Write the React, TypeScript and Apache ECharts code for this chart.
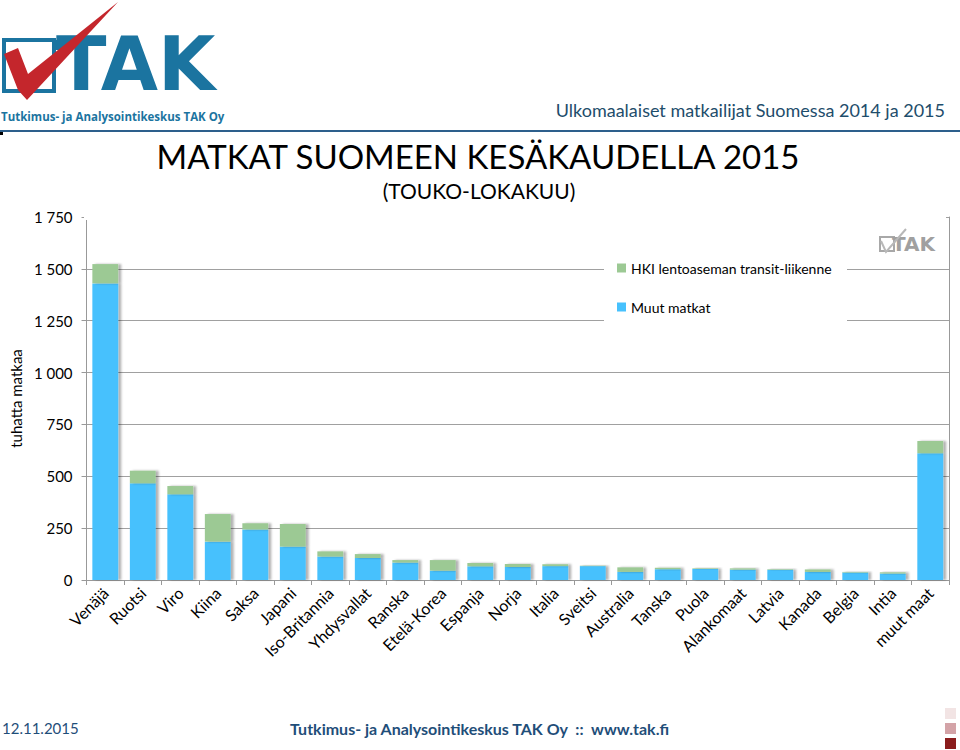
import React, { useEffect, useRef } from "react";
import * as echarts from "echarts";

const categories = ["Venäjä","Ruotsi","Viro","Kiina","Saksa","Japani","Iso-Britannia","Yhdysvallat","Ranska","Etelä-Korea","Espanja","Norja","Italia","Sveitsi","Australia","Tanska","Puola","Alankomaat","Latvia","Kanada","Belgia","Intia","muut maat"];
const muutMatkat = [1430,466,413,185,244,161,113,106,84,45,66,63,67,67,39,52,53,50,49,39,36,31,611];
const hkiTransit = [93,61,40,133,29,109,25,19,12,51,16,14,9,2,22,7,3,6,3,12,3,6,59];
const yTicks = { min: 0, max: 1750, interval: 250 };

const FONT = "Lato, 'Open Sans', sans-serif";
const BLUE = "#47c1fd";
const GREEN = "#9cc994";
const DARK = "#1f4e79";

function fmt(v: number): string {
  if (v >= 1000) {
    const t = Math.floor(v / 1000);
    const r = String(v % 1000).padStart(3, "0");
    return `${t} ${r}`;
  }
  return String(v);
}

export default function App() {
  const ref = useRef<HTMLDivElement>(null);
  useEffect(() => {
    if (!ref.current) return;
    const chart = echarts.init(ref.current, null, { renderer: "svg" });
    const shadow = { shadowColor: "rgba(0,0,0,0.3)", shadowBlur: 2, shadowOffsetX: 3, shadowOffsetY: 0 };
    chart.setOption({
      animation: false,
      backgroundColor: "#ffffff",
      textStyle: { fontFamily: FONT },
      grid: { left: 82, right: 11, top: 217, bottom: 170, containLabel: false },
      legend: {
        orient: "vertical",
        left: 612,
        top: 256,
        itemWidth: 9,
        itemHeight: 9,
        itemGap: 25,
        icon: "rect",
        data: ["HKI lentoaseman transit-liikenne", "Muut matkat"],
        textStyle: { fontFamily: FONT, fontSize: 14, color: "#000" },
        z: 10,
      },
      xAxis: {
        type: "category",
        data: categories,
        axisLine: { lineStyle: { color: "#999", width: 1 } },
        axisTick: { show: true, length: 5, lineStyle: { color: "#999" } },
        axisLabel: { rotate: 45, fontSize: 16, color: "#000", fontFamily: FONT, margin: 10, interval: 0 },
      },
      yAxis: [
        {
          type: "value",
          min: yTicks.min,
          max: yTicks.max,
          interval: yTicks.interval,
          name: "tuhatta matkaa",
          nameLocation: "middle",
          nameRotate: 90,
          nameGap: 62,
          nameTextStyle: { fontSize: 15, color: "#000", fontFamily: FONT },
          axisLine: { show: true, lineStyle: { color: "#999" } },
          axisTick: { show: true, length: 5, lineStyle: { color: "#999" } },
          axisLabel: { fontSize: 15, color: "#000", fontFamily: FONT, margin: 14, formatter: (v: number) => fmt(v) },
          splitLine: { show: true, lineStyle: { color: "#a0a0a0", width: 1 } },
        },
        {
          type: "value",
          position: "right",
          min: yTicks.min,
          max: yTicks.max,
          interval: yTicks.interval,
          axisLine: { show: true, lineStyle: { color: "#999" } },
          axisTick: { show: false },
          axisLabel: { show: false },
          splitLine: { show: false },
        },
      ],
      series: [
        {
          name: "Muut matkat",
          type: "bar",
          stack: "total",
          data: muutMatkat,
          barCategoryGap: "31%",
          itemStyle: { color: BLUE, ...shadow },
        },
        {
          name: "HKI lentoaseman transit-liikenne",
          type: "bar",
          stack: "total",
          data: hkiTransit,
          barCategoryGap: "31%",
          itemStyle: { color: GREEN, ...shadow },
        },
      ],
      graphic: [
        { type: "rect", z: 5, shape: { x: 84, y: 212, width: 862, height: 8 }, style: { fill: "#fff" } },
        { type: "rect", z: 5, shape: { x: 604, y: 248, width: 243, height: 80 }, style: { fill: "#fff" } },
        { type: "line", z: 6, shape: { x1: 0, y1: 131, x2: 960, y2: 131 }, style: { stroke: "#2d5f8c", lineWidth: 2 } },
        { type: "rect", z: 6, shape: { x: 0, y: 132, width: 3, height: 3 }, style: { fill: "#000" } },
        {
          type: "text", z: 6, x: 945, y: 110,
          style: { text: "Ulkomaalaiset matkailijat Suomessa 2014 ja 2015", fill: "#1e4d6b", font: `18px ${FONT}`, textAlign: "right", textVerticalAlign: "middle" },
        },
        {
          type: "text", z: 6, x: 478, y: 156,
          style: { text: "MATKAT SUOMEEN KESÄKAUDELLA 2015", fill: "#000", font: `33px ${FONT}`, textAlign: "center", textVerticalAlign: "middle" },
        },
        {
          type: "text", z: 6, x: 479, y: 190,
          style: { text: "(TOUKO-LOKAKUU)", fill: "#000", font: `21px ${FONT}`, textAlign: "center", textVerticalAlign: "middle" },
        },
        { type: "rect", z: 6, shape: { x: 4, y: 40, width: 50, height: 51 }, style: { fill: "none", stroke: "#1b74a0", lineWidth: 4 } },
        { type: "rect", z: 6, shape: { x: 54, y: 40, width: 14, height: 10 }, style: { fill: "#1b74a0" } },
        {
          type: "text", z: 6, x: 56, y: 64,
          style: { text: "TAK", fill: "#1b74a0", font: `bold 74px 'DejaVu Sans', sans-serif`, textAlign: "left", textVerticalAlign: "middle" },
        },
        {
          type: "polygon", z: 7,
          shape: { points: [[4, 54], [18, 48], [28, 74], [98, 18], [118, 2], [40, 86], [27, 100], [18, 90]] },
          style: { fill: "#c4262c" },
        },
        {
          type: "text", z: 6, x: 1, y: 116,
          style: { text: "Tutkimus- ja Analysointikeskus TAK Oy", fill: "#1b74a0", font: `bold 11.5px 'Open Sans', sans-serif`, textAlign: "left", textVerticalAlign: "middle" },
        },
        { type: "rect", z: 6, shape: { x: 880, y: 237, width: 14, height: 14 }, style: { fill: "none", stroke: "#a8a8a8", lineWidth: 2 } },
        {
          type: "text", z: 6, x: 892, y: 244,
          style: { text: "TAK", fill: "#a0a0a0", font: `bold 20px 'DejaVu Sans', sans-serif`, textAlign: "left", textVerticalAlign: "middle" },
        },
        { type: "polyline", z: 7, shape: { points: [[881, 241], [886, 252], [906, 229]] }, style: { stroke: "#b8b8b8", lineWidth: 2, fill: "none" } },
        {
          type: "text", z: 6, x: 2, y: 728,
          style: { text: "12.11.2015", fill: DARK, font: `15px ${FONT}`, textAlign: "left", textVerticalAlign: "middle" },
        },
        {
          type: "text", z: 6, x: 290, y: 728,
          style: { text: "Tutkimus- ja Analysointikeskus TAK Oy  ::  www.tak.fi", fill: DARK, font: `bold 16px ${FONT}`, textAlign: "left", textVerticalAlign: "middle" },
        },
        { type: "rect", z: 6, shape: { x: 945, y: 708, width: 11, height: 11 }, style: { fill: "#f2e4e4" } },
        { type: "rect", z: 6, shape: { x: 945, y: 723, width: 11, height: 11 }, style: { fill: "#d3a3a7" } },
        { type: "rect", z: 6, shape: { x: 945, y: 738, width: 11, height: 11 }, style: { fill: "#8a1c1c" } },
      ],
    });
    return () => chart.dispose();
  }, []);
  return <div ref={ref} style={{ position: "fixed", left: 0, top: 0, width: 960, height: 750 }} />;
}
